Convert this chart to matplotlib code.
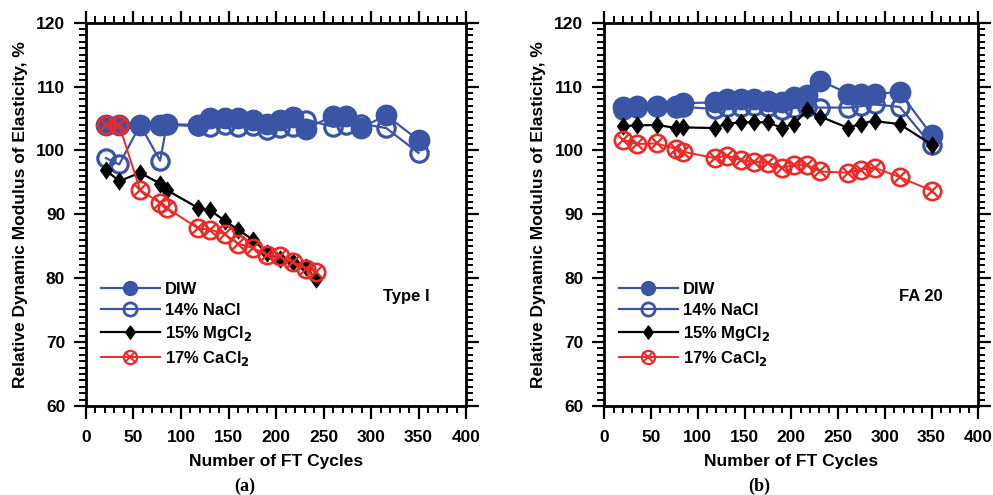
import matplotlib
matplotlib.use("Agg")
import matplotlib.pyplot as plt
from matplotlib.ticker import MultipleLocator
from matplotlib.lines import Line2D
from matplotlib.legend_handler import HandlerTuple

plt.rcParams['font.family'] = ['Liberation Sans', 'DejaVu Sans']
plt.rcParams['font.weight'] = 'bold'
plt.rcParams['mathtext.default'] = 'bf'

# ---- data ----
cycles_a_blue = [21, 35, 57, 78, 85, 118, 131, 146, 160, 176, 190, 204, 218, 232, 260, 274, 289, 316, 350]
diw_a = [104.0, 104.0, 104.0, 103.9, 104.1, 104.0, 105.0, 105.0, 105.0, 104.8, 104.2, 104.8, 105.3, 103.4, 105.4, 105.4, 103.5, 105.5, 101.6]
nacl_a = [98.8, 97.8, 104.0, 98.4, 104.0, 103.8, 103.7, 104.0, 103.7, 103.8, 103.2, 103.5, 103.7, 104.8, 103.7, 104.0, 104.2, 103.5, 99.6]
cycles_a_salt = [21, 35, 57, 78, 85, 118, 131, 146, 160, 176, 190, 204, 218, 232, 242]
mg_a = [96.9, 95.2, 96.5, 94.8, 93.8, 91.0, 90.6, 89.0, 87.6, 86.0, 84.0, 83.0, 82.6, 81.7, 79.8]
ca_a = [103.9, 103.9, 93.8, 91.8, 91.0, 87.8, 87.6, 86.9, 85.4, 84.7, 83.7, 83.4, 82.5, 81.5, 81.0]

cycles_b = [20, 35, 56, 77, 84, 118, 131, 146, 160, 175, 190, 203, 217, 231, 261, 274, 289, 316, 350]
diw_b = [106.8, 107.0, 107.0, 106.9, 107.4, 107.5, 108.1, 108.0, 108.0, 107.8, 107.5, 108.4, 108.6, 110.9, 108.9, 108.9, 108.9, 109.1, 102.4]
nacl_b = [106.3, 106.6, 106.8, 106.6, 106.8, 106.5, 106.8, 106.8, 106.9, 106.8, 106.4, 106.6, 106.8, 106.7, 106.7, 106.9, 107.2, 106.8, 100.8]
mg_b = [103.8, 103.9, 104.0, 103.5, 103.6, 103.5, 104.2, 104.4, 104.4, 104.4, 103.5, 104.2, 106.3, 105.3, 103.5, 104.2, 104.6, 104.1, 100.9]
ca_b = [101.7, 101.0, 101.1, 100.2, 99.8, 98.8, 99.2, 98.5, 98.2, 98.1, 97.3, 97.7, 97.7, 96.7, 96.5, 97.0, 97.3, 95.8, 93.7]

labels = ['DIW', '14% NaCl', '15% MgCl$_2$', '17% CaCl$_2$']
panel_notes = ['Type I', 'FA 20']
captions = ['(a)', '(b)']

BLUE = '#3a55a6'
RED = '#ec2a27'
BLACK = '#000000'
DIAMOND = [(0, 1), (0.72, 0), (0, -1), (-0.72, 0), (0, 1)]

fig = plt.figure(figsize=(9.93, 4.95), dpi=100)
ax_a = fig.add_axes([0.0866, 0.1798, 0.3827, 0.7745])
ax_b = fig.add_axes([0.6085, 0.1798, 0.3768, 0.7745])


def draw(ax, xb, diw, nacl, xs, mg, ca, note):
    ax.plot(xb, diw, color=BLUE, lw=1.6, marker='o', ms=14.5,
            mfc=BLUE, mec=BLUE, mew=1.2, zorder=3)
    ax.plot(xb, nacl, color=BLUE, lw=1.6, marker='o', ms=12.5,
            mfc='none', mec=BLUE, mew=2.3, zorder=4)
    ax.plot(xs, mg, color=BLACK, lw=1.6, marker=DIAMOND, ms=12.5,
            mfc=BLACK, mec=BLACK, mew=0.5, zorder=5)
    ax.plot(xs, ca, color=RED, lw=1.4, marker='o', ms=12.5,
            mfc='none', mec=RED, mew=1.9, zorder=6)
    ax.plot(xs, ca, ls='none', marker='x', ms=8.5,
            mec=RED, mew=1.6, zorder=6)

    ax.set_xlim(0, 400)
    ax.set_ylim(60, 120)
    ax.xaxis.set_major_locator(MultipleLocator(50))
    ax.xaxis.set_minor_locator(MultipleLocator(10))
    ax.yaxis.set_major_locator(MultipleLocator(10))
    ax.yaxis.set_minor_locator(MultipleLocator(1))
    ax.tick_params(which='both', direction='out', top=True, right=True,
                   labeltop=False, labelright=False)
    ax.tick_params(which='major', length=9, width=1.6, labelsize=12.5, pad=8)
    ax.tick_params(axis='y', which='major', pad=6)
    ax.tick_params(which='minor', length=5, width=1.4)
    for s in ax.spines.values():
        s.set_linewidth(2.0)
    for lab in ax.get_xticklabels() + ax.get_yticklabels():
        lab.set_fontweight('bold')

    ax.set_xlabel('Number of FT Cycles', fontsize=12.5, fontweight='bold', labelpad=7)
    ax.set_ylabel('Relative Dynamic Modulus of Elasticity, %', fontsize=12.5,
                  fontweight='bold', labelpad=6)

    # legend handles (smaller markers)
    l_diw = Line2D([], [], color=BLUE, lw=1.6, marker='o', ms=10, mfc=BLUE, mec=BLUE)
    l_nacl = Line2D([], [], color=BLUE, lw=1.6, marker='o', ms=9.5, mfc='none', mec=BLUE, mew=2)
    l_mg = Line2D([], [], color=BLACK, lw=1.6, marker=DIAMOND, ms=9.5, mfc=BLACK, mec=BLACK)
    l_ca = Line2D([], [], color=RED, lw=1.4, marker='o', ms=9.5, mfc='none', mec=RED, mew=1.6)
    l_cax = Line2D([], [], ls='none', marker='x', ms=6.5, mec=RED, mew=1.4)
    ax.legend([l_diw, l_nacl, l_mg, (l_ca, l_cax)], labels,
              handler_map={tuple: HandlerTuple(ndivide=1, pad=0)},
              loc='upper left', bbox_to_anchor=(0.04, 0.323), frameon=False,
              handlelength=3.5, handletextpad=0.35,
              labelspacing=0.36, borderpad=0, borderaxespad=0,
              prop={'weight': 'bold', 'size': 12})

    ax.text(0.905, 0.285, note, transform=ax.transAxes, ha='right', va='center',
            fontsize=12, fontweight='bold')


draw(ax_a, cycles_a_blue, diw_a, nacl_a, cycles_a_salt, mg_a, ca_a, panel_notes[0])
draw(ax_b, cycles_b, diw_b, nacl_b, cycles_b, mg_b, ca_b, panel_notes[1])

fig.text(0.2467, 0.017, captions[0], ha='center', va='center', fontsize=13,
         fontweight='bold', family=['Liberation Serif', 'DejaVu Serif'])
fig.text(0.7644, 0.017, captions[1], ha='center', va='center', fontsize=13,
         fontweight='bold', family=['Liberation Serif', 'DejaVu Serif'])

fig.savefig('out.png', dpi=100)
